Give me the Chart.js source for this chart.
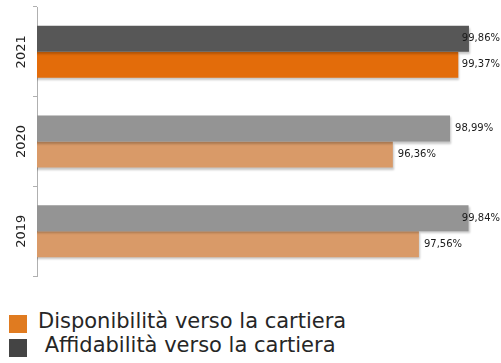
<!DOCTYPE html>
<html lang="it">
<head>
<meta charset="utf-8">
<title>Affidabilità e disponibilità verso la cartiera</title>
<script src="https://cdn.jsdelivr.net/npm/chart.js@4.4.1/dist/chart.umd.min.js"></script>
<style>
  html, body { margin: 0; padding: 0; background: #ffffff; }
  #pagina { position: relative; width: 501px; height: 363px; overflow: hidden; }
  #contenitore { position: absolute; left: 0; top: 0; width: 501px; height: 280px; }
  .legenda { position: absolute; left: 0; top: 0; width: 501px; }
  .legenda__riga { position: absolute; left: 0; height: 23px; line-height: 23px; white-space: pre;
    font-family: 'DejaVu Sans', Verdana, sans-serif; font-size: 21px; color: #262626; }
  .legenda__cor { position: absolute; left: 9px; width: 18px; height: 18px; }
  .legenda__testo { position: absolute; left: 38px; top: 0; }
</style>
</head>
<body>
<div id="pagina">
  <div id="contenitore"><canvas id="grafico"></canvas></div>
  <div class="legenda" id="legenda"></div>
</div>
<script>
// ===== Dati =====
const anni = ['2021', '2020', '2019'];
const affidabilita = [99.86, 98.99, 99.84];
const disponibilita = [99.37, 96.36, 97.56];

// ===== Colori (un colore per ogni barra) =====
const coloriAffidabilita = ['#575757', '#949494', '#949494'];
const coloriDisponibilita = ['#e36c0a', '#d99a68', '#d99a68'];

// ===== Legenda (ordine come nell'originale) =====
const vociLegenda = ['Disponibilità verso la cartiera', ' Affidabilità verso la cartiera'];
const coloriLegenda = ['#e07b20', '#444444'];

function formatarePercentuale(v) {
  return v.toFixed(2).replace('.', ',') + '%';
}

// ===== Plugin: ombra leggera sotto le barre =====
const ombraPlugin = {
  id: 'ombra',
  beforeDatasetsDraw(chart) {
    const ctx = chart.ctx;
    ctx.save();
    ctx.shadowColor = 'rgba(0,0,0,0.22)';
    ctx.shadowBlur = 2;
    ctx.shadowOffsetX = 1;
    ctx.shadowOffsetY = 2;
  },
  afterDatasetsDraw(chart) {
    chart.ctx.restore();
  },
};

// ===== Plugin: etichette dei valori accanto alle barre =====
const etichettePlugin = {
  id: 'etichette',
  afterDatasetsDraw(chart) {
    const ctx = chart.ctx;
    ctx.save();
    ctx.font = '10px "DejaVu Sans", Verdana, sans-serif';
    ctx.fillStyle = '#1a1a1a';
    ctx.textBaseline = 'middle';
    ctx.textAlign = 'left';
    chart.data.datasets.forEach((ds, i) => {
      chart.getDatasetMeta(i).data.forEach((barra, j) => {
        const testo = formatarePercentuale(ds.data[j]);
        const w = ctx.measureText(testo).width;
        const x = Math.min(barra.x + 5, chart.width - w - 1);
        ctx.fillText(testo, x, barra.y);
      });
    });
    ctx.restore();
  },
};

// ===== Grafico =====
new Chart(document.getElementById('grafico'), {
  type: 'bar',
  data: {
    labels: anni,
    datasets: [
      { label: 'Affidabilità verso la cartiera', data: affidabilita, backgroundColor: coloriAffidabilita },
      { label: 'Disponibilità verso la cartiera', data: disponibilita, backgroundColor: coloriDisponibilita },
    ],
  },
  options: {
    indexAxis: 'y',
    responsive: true,
    maintainAspectRatio: false,
    animation: false,
    categoryPercentage: 0.58,
    barPercentage: 1,
    layout: { padding: { top: 7, right: 29, bottom: 4, left: 0 } },
    plugins: {
      legend: { display: false },
      tooltip: { enabled: false },
    },
    scales: {
      x: { display: false, min: 80, max: 100 },
      y: {
        afterFit(scale) { scale.width = 37; },
        border: { display: true, color: '#b0b0b0', width: 1 },
        grid: { drawOnChartArea: false, tickLength: 4, color: '#b0b0b0' },
        ticks: {
          minRotation: 90,
          maxRotation: 90,
          crossAlign: 'center',
          padding: -5,
          color: '#222222',
          font: { family: '"DejaVu Sans", Verdana, sans-serif', size: 13 },
        },
      },
    },
  },
  plugins: [ombraPlugin, etichettePlugin],
});

// ===== Legenda HTML =====
const legenda = document.getElementById('legenda');
vociLegenda.forEach((voce, i) => {
  const riga = document.createElement('div');
  riga.className = 'legenda__riga';
  riga.style.top = (309.5 + i * 24) + 'px';
  riga.innerHTML = `
    <span class="legenda__cor" style="background:${coloriLegenda[i]};top:5.5px"></span>
    <span class="legenda__testo">${voce}</span>
  `;
  legenda.appendChild(riga);
});
</script>
</body>
</html>
